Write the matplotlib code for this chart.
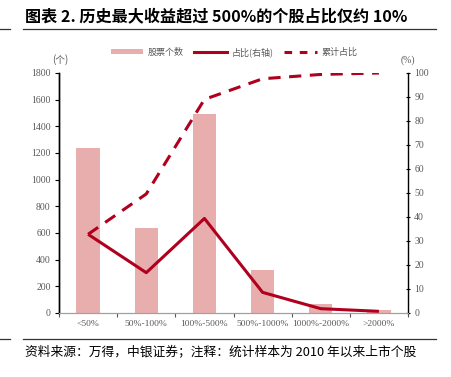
import matplotlib
matplotlib.use("Agg")
import matplotlib.pyplot as plt
from matplotlib.patches import Patch
from matplotlib.lines import Line2D
import numpy as np

categories = ["<50%", "50%-100%", "100%-500%", "500%-1000%", "1000%-2000%", ">2000%"]
counts = [1240, 635, 1490, 325, 70, 25]
share = [32.8, 16.8, 39.4, 8.6, 1.8, 0.7]
cumulative = [32.8, 49.6, 89.0, 97.6, 99.4, 100.0]
left_ticks = [0, 200, 400, 600, 800, 1000, 1200, 1400, 1600, 1800]
right_ticks = [0, 10, 20, 30, 40, 50, 60, 70, 80, 90, 100]

BAR = "#E8AEAE"
RED = "#B0001E"
GRAY = "#595959"
CJK = ["Noto Sans CJK SC", "DejaVu Sans"]
SERIF = ["Liberation Serif", "DejaVu Serif"]

fig = plt.figure(figsize=(4.51, 3.77), dpi=100)
ax = fig.add_axes([59/451, 1-313/377, (408-59)/451, (313-73)/377])
ax2 = ax.twinx()

x = np.arange(len(categories))
ax.bar(x, counts, width=0.4, color=BAR, zorder=1)
ax.set_xlim(-0.5, len(categories)-0.5)
ax.set_ylim(0, 1800)
ax2.set_ylim(0, 100)

ax2.plot(x, share, color=RED, lw=2.2, solid_joinstyle="round", solid_capstyle="butt", zorder=3)
ax2.plot(x, cumulative, color=RED, lw=2.2, linestyle=(0, (4, 2.8)), zorder=3)

ax.set_xticks(np.arange(-0.5, len(categories), 1.0))
ax.set_xticklabels([])
ax.set_xticks(x, minor=True)
ax.set_xticklabels(categories, minor=True, fontsize=6.8, color=GRAY, family=SERIF)
ax.tick_params(axis="x", which="major", length=3, direction="out", color=GRAY)
ax.tick_params(axis="x", which="minor", length=0, pad=5)
ax.set_yticks(left_ticks)
ax.set_yticklabels([str(t) for t in left_ticks], fontsize=7, color=GRAY, family=SERIF)
ax.tick_params(axis="y", length=3, direction="out", color="black", pad=3)
ax2.set_yticks(right_ticks)
ax2.set_yticklabels([str(t) for t in right_ticks], fontsize=7, color=GRAY, family=SERIF)
ax2.tick_params(axis="y", length=3, direction="inout", color="black", pad=3)

for a in (ax, ax2):
    a.spines["top"].set_visible(False)
    a.spines["bottom"].set_color("#A0A0A0")
    a.spines["left"].set_color("black")
    a.spines["right"].set_color("black")
    a.spines["left"].set_linewidth(1.0)
    a.spines["right"].set_linewidth(1.0)
ax.spines["right"].set_visible(False)

fig.text(60/451, 1-60/377, "(个)", fontsize=7, color=GRAY, family=CJK, ha="center", va="center")
fig.text(408/451, 1-60/377, "(%)", fontsize=7, color=GRAY, family=SERIF, ha="center", va="center")

handles = [Patch(facecolor=BAR, edgecolor="none"),
           Line2D([], [], color=RED, lw=2.2),
           Line2D([], [], color=RED, lw=2.2, linestyle=(0, (2.5, 2.5)))]
labels = ["股票个数", "占比(右轴)", "累计占比"]
fig.legend(handles, labels, loc="center", bbox_to_anchor=(234/451, 1-52/377), ncol=3,
           frameon=False, prop={"family": CJK, "size": 6.5}, handlelength=3.6,
           handleheight=0.5, columnspacing=1.2, handletextpad=0.5, labelcolor=GRAY)

fig.text(25/451, 1-16/377, "图表 2. 历史最大收益超过 500%的个股占比仅约 10%", fontsize=11.6,
         fontweight="bold", family=CJK, ha="left", va="center", color="black")
fig.text(25/451, 1-352/377, "资料来源：万得，中银证券；注释：统计样本为 2010 年以来上市个股",
         fontsize=9.2, family=CJK, ha="left", va="center", color="black", style="italic")

for yy in (29, 339):
    fig.add_artist(Line2D([23/451, 436/451], [1-yy/377, 1-yy/377], color="#333333", lw=0.9))
    fig.add_artist(Line2D([0, 10/451], [1-yy/377, 1-yy/377], color="#333333", lw=0.9))

fig.savefig("out.png", dpi=100)
